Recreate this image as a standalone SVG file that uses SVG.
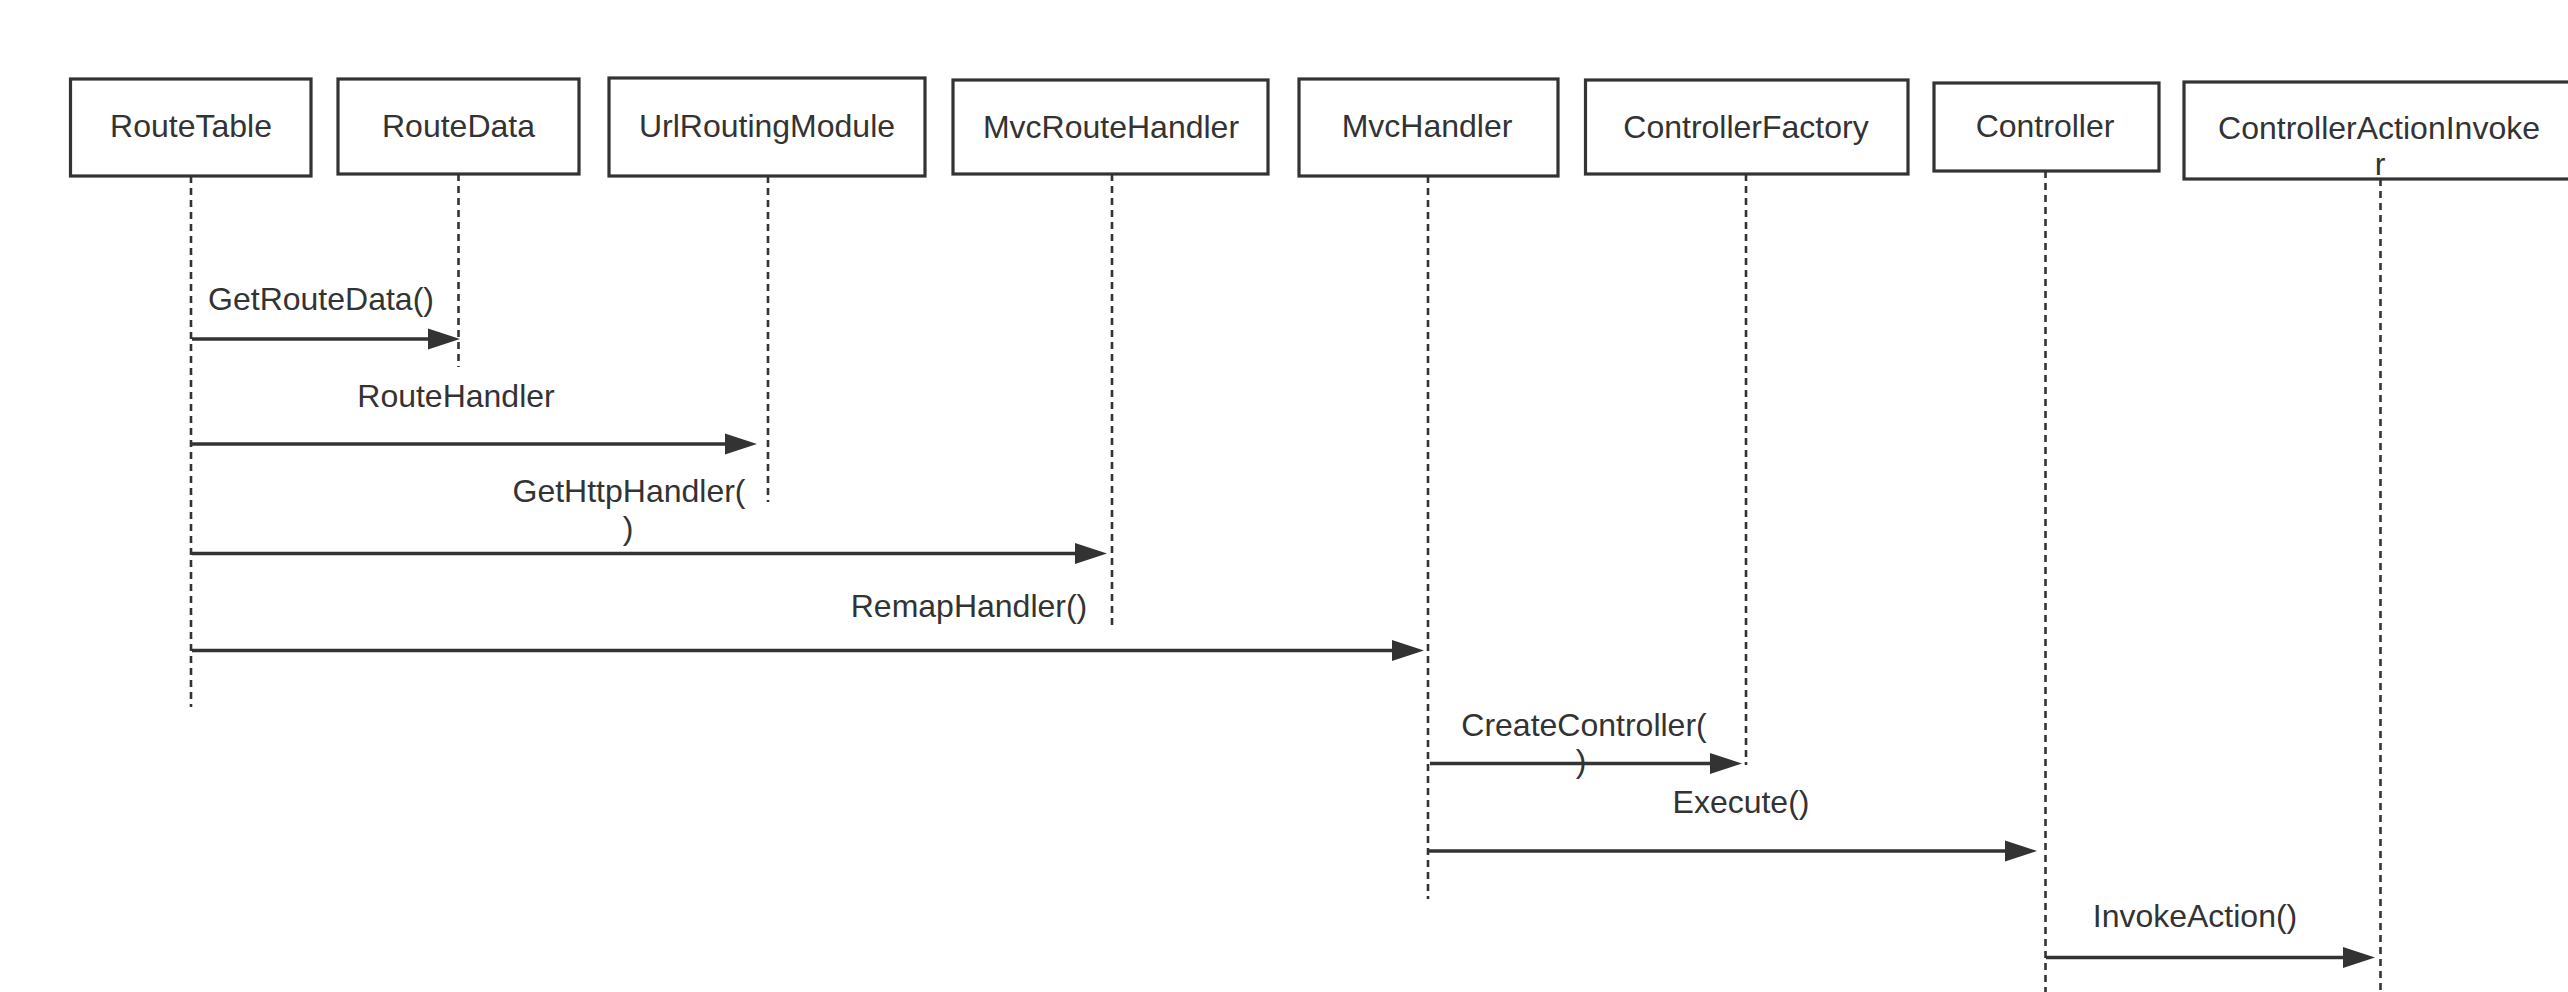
<svg xmlns="http://www.w3.org/2000/svg" width="2568" height="992" viewBox="0 0 2568 992">
<style>
.box{fill:#fff;stroke:#333;stroke-width:3.2}
.life{stroke:#333;stroke-width:2.6;stroke-dasharray:7 5;fill:none}
.msg{stroke:#333;stroke-width:3.4;fill:none}
text{font-family:"Liberation Sans",Arial,sans-serif;font-size:32px;fill:#333;text-anchor:middle}
</style>
<defs>
<marker id="ah" markerUnits="userSpaceOnUse" markerWidth="32" markerHeight="22" refX="16" refY="11" orient="auto" viewBox="0 0 32 22">
<path d="M0,0.5 L32,11 L0,21.5 z" fill="#333"/>
</marker>
</defs>
<rect width="2568" height="992" fill="#fff"/>
<g id="RouteTable">
<rect class="box" x="70.5" y="79" width="240.5" height="97"/>
<text x="191" y="137">RouteTable</text>
<line class="life" x1="191" y1="176" x2="191" y2="707"/>
</g>
<g id="RouteData">
<rect class="box" x="338" y="79" width="241" height="95"/>
<text x="458.5" y="137">RouteData</text>
<line class="life" x1="458.5" y1="174" x2="458.5" y2="367"/>
</g>
<g id="UrlRoutingModule">
<rect class="box" x="609" y="78" width="316" height="98"/>
<text x="767" y="137">UrlRoutingModule</text>
<line class="life" x1="768" y1="176" x2="768" y2="502"/>
</g>
<g id="MvcRouteHandler">
<rect class="box" x="953" y="80" width="315" height="94"/>
<text x="1111" y="138">MvcRouteHandler</text>
<line class="life" x1="1112" y1="174" x2="1112" y2="630"/>
</g>
<g id="MvcHandler">
<rect class="box" x="1299" y="79" width="259" height="97"/>
<text x="1427" y="137">MvcHandler</text>
<line class="life" x1="1428" y1="176" x2="1428" y2="899"/>
</g>
<g id="ControllerFactory">
<rect class="box" x="1585.5" y="80" width="322.5" height="94"/>
<text x="1746" y="138">ControllerFactory</text>
<line class="life" x1="1746" y1="174" x2="1746" y2="765"/>
</g>
<g id="Controller">
<rect class="box" x="1934" y="83" width="225" height="88"/>
<text x="2045" y="137">Controller</text>
<line class="life" x1="2045.5" y1="171" x2="2045.5" y2="992"/>
</g>
<g id="ControllerActionInvoker">
<rect class="box" x="2184" y="82" width="420" height="97"/>
<text x="2379" y="139">ControllerActionInvoke</text>
<text x="2380" y="175">r</text>
<line class="life" x1="2380.5" y1="179" x2="2380.5" y2="992"/>
</g>
<g id="connectors">
<line class="msg" x1="192" y1="339" x2="444" y2="339" marker-end="url(#ah)"/>
<text x="321" y="310">GetRouteData()</text>
<line class="msg" x1="192" y1="444" x2="741" y2="444" marker-end="url(#ah)"/>
<text x="456" y="407">RouteHandler</text>
<line class="msg" x1="192" y1="553.5" x2="1091" y2="553.5" marker-end="url(#ah)"/>
<text x="629" y="502">GetHttpHandler(</text>
<text x="628" y="539">)</text>
<line class="msg" x1="192" y1="650.5" x2="1408" y2="650.5" marker-end="url(#ah)"/>
<text x="969" y="617">RemapHandler()</text>
<line class="msg" x1="1430" y1="763.5" x2="1726" y2="763.5" marker-end="url(#ah)"/>
<text x="1584" y="736">CreateController(</text>
<text x="1581" y="772">)</text>
<line class="msg" x1="1429" y1="851" x2="2021" y2="851" marker-end="url(#ah)"/>
<text x="1741" y="813">Execute()</text>
<line class="msg" x1="2046" y1="957.5" x2="2359" y2="957.5" marker-end="url(#ah)"/>
<text x="2195" y="927">InvokeAction()</text>
</g>
</svg>
